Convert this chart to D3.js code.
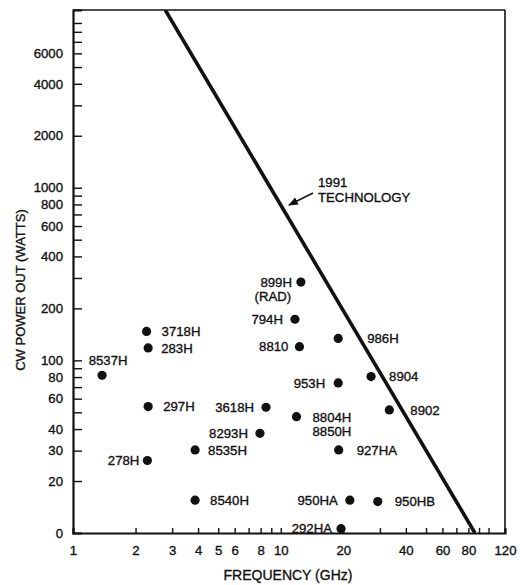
<!DOCTYPE html>
<html>
<head>
<meta charset="utf-8">
<script src="https://cdn.jsdelivr.net/npm/d3@7/dist/d3.min.js"></script>
<style>
  html, body { margin: 0; padding: 0; background: #fff; }
  svg text { font-family: "Liberation Sans", Arial, Helvetica, sans-serif; fill: #111; stroke: #111; stroke-width: 0.35px; }
</style>
</head>
<body>
<svg id="chart" width="529" height="585"></svg>
<script>
// ---- data ----
const deviceNames = ["8537H","3718H","283H","297H","278H","8535H","8293H","3618H","899H","794H","8810","986H","953H","8904","8902","8804H","927HA","8540H","950HA","950HB","292HA"];
const freqGHz     = [1.38, 2.26, 2.30, 2.30, 2.28, 3.87, 7.94, 8.49, 12.5, 11.7, 12.3, 18.9, 18.9, 27.2, 33.3, 11.9, 19.0, 3.87, 21.5, 29.3, 19.5];
const powerW      = [82, 147, 118, 54, 26.3, 30.3, 37.8, 53.5, 284, 173, 120, 134, 74, 80.6, 51.6, 47.2, 30.3, 15.5, 15.5, 15.2, 10.6];
const techFreq    = [2.78, 86];
const techPower   = [10700, 10];
const xTickValues = [2,3,4,5,6,7,8,9,10,20,30,40,50,60,70,80,90,100];
const xTickLabels = [1,2,3,4,5,6,8,10,20,40,60,80,120];
const yTickValues = [20,30,40,50,60,70,80,90,100,200,300,400,500,600,700,800,900,1000,2000,3000,4000,5000,6000,7000,8000,9000];
const yTickLabels = [10,20,30,40,60,80,100,200,400,600,800,1000,2000,4000,6000];
const yLabelText  = {10: "0"};

// ---- layout (label placement relative to each dot) ----
const labelLayout = {
  "8537H": {dx: 6, dy: -15, anchor: "middle"},
  "3718H": {dx: 15, dy: 0, anchor: "start"},
  "283H":  {dx: 13, dy: 0, anchor: "start"},
  "297H":  {dx: 15, dy: 0, anchor: "start"},
  "278H":  {dx: -8, dy: 0, anchor: "end"},
  "8535H": {dx: 13, dy: 0, anchor: "start"},
  "8293H": {dx: -12, dy: 0, anchor: "end"},
  "3618H": {dx: -12, dy: 0, anchor: "end"},
  "899H":  {dx: -9, dy: 0, anchor: "end", sub: "(RAD)", subDx: -28, subDy: 14},
  "794H":  {dx: -12, dy: 0, anchor: "end"},
  "8810":  {dx: -11, dy: 0, anchor: "end"},
  "986H":  {dx: 29, dy: 0, anchor: "start"},
  "953H":  {dx: -13, dy: 0, anchor: "end"},
  "8904":  {dx: 18, dy: 0, anchor: "start"},
  "8902":  {dx: 21, dy: 0, anchor: "start"},
  "8804H": {dx: 16, dy: 1, anchor: "start", sub: "8850H", subDx: 16, subDy: 15, subAnchor: "start"},
  "927HA": {dx: 18, dy: 0, anchor: "start"},
  "8540H": {dx: 15, dy: 0, anchor: "start"},
  "950HA": {dx: -12, dy: 0, anchor: "end"},
  "950HB": {dx: 17, dy: 0, anchor: "start"},
  "292HA": {dx: -9, dy: 0, anchor: "end"}
};

const svg = d3.select("#chart");
const L = 73, R = 505, T = 10, B = 533;
const FS = 13.2;

const x = d3.scaleLog().domain([1, 120]).range([L, R]);
const y = d3.scaleLog().domain([10, 10700]).range([B, T]);

// frame
svg.append("line").attr("x1", L).attr("x2", R).attr("y1", T).attr("y2", T).attr("stroke", "#111").attr("stroke-width", 1.6);
svg.append("line").attr("x1", R).attr("x2", R).attr("y1", T).attr("y2", B).attr("stroke", "#111").attr("stroke-width", 1.6);

// x ticks (inward)
const xAxisTicks = d3.axisBottom(x).tickValues(xTickValues).tickSize(-5).tickFormat("");
const gx = svg.append("g").attr("transform", `translate(0,${B})`).call(xAxisTicks);
gx.select(".domain").attr("stroke", "#111").attr("stroke-width", 2.2);
gx.selectAll(".tick line").attr("stroke", "#111").attr("stroke-width", 1.4);

const xAxisLabels = d3.axisBottom(x).tickValues(xTickLabels).tickSize(0).tickPadding(13).tickFormat(d => d);
const gxl = svg.append("g").attr("transform", `translate(0,${B})`).call(xAxisLabels);
gxl.select(".domain").remove();
gxl.selectAll("text").attr("font-size", FS).attr("font-family", "Liberation Sans, Arial, sans-serif").attr("fill", "#111");

// y ticks (inward)
const yAxisTicks = d3.axisLeft(y).tickValues(yTickValues).tickSize(-9).tickFormat("");
const gy = svg.append("g").attr("transform", `translate(${L},0)`).call(yAxisTicks);
gy.select(".domain").attr("stroke", "#111").attr("stroke-width", 2.2);
gy.selectAll(".tick line").attr("stroke", "#111").attr("stroke-width", 1.4);

const yAxisLabels = d3.axisLeft(y).tickValues(yTickLabels).tickSize(0).tickPadding(10).tickFormat(d => yLabelText[d] !== undefined ? yLabelText[d] : d);
const gyl = svg.append("g").attr("transform", `translate(${L},0)`).call(yAxisLabels);
gyl.select(".domain").remove();
gyl.selectAll("text").attr("font-size", FS).attr("font-family", "Liberation Sans, Arial, sans-serif").attr("fill", "#111");

// axis titles
svg.append("text").attr("x", 288).attr("y", 580).attr("text-anchor", "middle")
  .attr("font-size", 14).text("FREQUENCY (GHz)");
svg.append("text").attr("transform", `translate(25,290) rotate(-90)`).attr("text-anchor", "middle")
  .attr("font-size", 13).text("CW POWER OUT (WATTS)");

// technology line
svg.append("defs").append("clipPath").attr("id", "plotclip")
  .append("rect").attr("x", L).attr("y", T).attr("width", R - L).attr("height", B - T);
const techData = techFreq.map((f, i) => ({f, p: techPower[i]}));
svg.append("path").datum(techData)
  .attr("clip-path", "url(#plotclip)")
  .attr("d", d3.line().x(d => x(d.f)).y(d => y(d.p)))
  .attr("fill", "none").attr("stroke", "#111").attr("stroke-width", 3.6);

// annotation
svg.append("defs").append("marker").attr("id", "arrow").attr("viewBox", "0 0 10 10")
  .attr("refX", 9).attr("refY", 5).attr("markerWidth", 7).attr("markerHeight", 7).attr("orient", "auto")
  .append("path").attr("d", "M0,1 L10,5 L0,9 Z").attr("fill", "#111");
svg.append("line").attr("x1", 313).attr("y1", 193).attr("x2", 289).attr("y2", 205)
  .attr("stroke", "#111").attr("stroke-width", 1.4).attr("marker-end", "url(#arrow)");
svg.append("text").attr("x", 318).attr("y", 186.5).attr("font-size", FS).text("1991");
svg.append("text").attr("x", 318).attr("y", 201.5).attr("font-size", FS).text("TECHNOLOGY");

// points
const pts = deviceNames.map((n, i) => ({name: n, f: freqGHz[i], p: powerW[i]}));
svg.append("g").selectAll("circle").data(pts).join("circle")
  .attr("cx", d => x(d.f)).attr("cy", d => y(d.p)).attr("r", 4.6).attr("fill", "#111");

const lg = svg.append("g").attr("font-size", FS);
pts.forEach(d => {
  const lay = labelLayout[d.name];
  lg.append("text").attr("x", x(d.f) + lay.dx).attr("y", y(d.p) + lay.dy).attr("dy", "0.36em")
    .attr("text-anchor", lay.anchor).text(d.name);
  if (lay.sub) {
    lg.append("text").attr("x", x(d.f) + lay.subDx).attr("y", y(d.p) + lay.subDy).attr("dy", "0.36em")
      .attr("text-anchor", lay.subAnchor || "middle").text(lay.sub);
  }
});
</script>
</body>
</html>
